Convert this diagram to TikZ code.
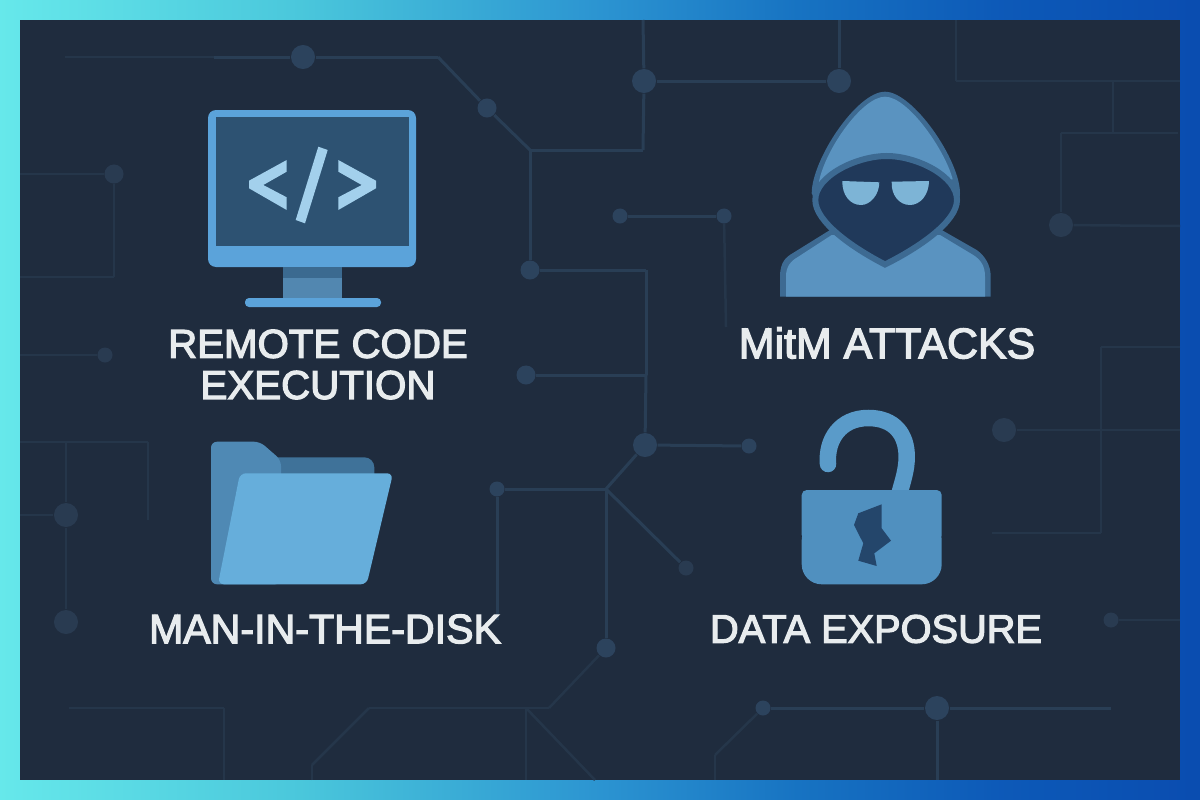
\documentclass[tikz,border=0pt]{standalone}
\usepackage{fontspec}
\setmainfont{Liberation Sans}
\newfontfamily\capfont[FakeBold=3]{Liberation Sans}
\definecolor{panelbg}{HTML}{1F2C3E}
\definecolor{tracecol}{HTML}{293E55}
\definecolor{tracedim}{HTML}{25364A}
\definecolor{viacol}{HTML}{2C435D}
\definecolor{viadim}{HTML}{293B51}
\definecolor{framecol}{HTML}{5BA3DA}
\definecolor{screencol}{HTML}{2D5272}
\definecolor{glyphcol}{HTML}{A3D0EC}
\definecolor{neckdark}{HTML}{3B6A90}
\definecolor{necklight}{HTML}{5287B0}
\definecolor{hoodline}{HTML}{3D6A92}
\definecolor{hoodfill}{HTML}{5A93C0}
\definecolor{facecol}{HTML}{20395A}
\definecolor{eyecol}{HTML}{7DB4D6}
\definecolor{foldertab}{HTML}{4F89B4}
\definecolor{folderback}{HTML}{3F7299}
\definecolor{folderfront}{HTML}{66AEDB}
\definecolor{lockbody}{HTML}{5090BF}
\definecolor{lockbar}{HTML}{5A9BC9}
\definecolor{crackcol}{HTML}{24466B}
\definecolor{labelcol}{HTML}{E8ECEE}
\pgfdeclarehorizontalshading{frameglow}{100bp}{rgb(0bp)=(.40,.91,.92); rgb(25bp)=(.40,.91,.92); rgb(37.5bp)=(.29,.78,.86); rgb(50bp)=(.17,.58,.82); rgb(58.3bp)=(.09,.45,.76); rgb(66.7bp)=(.05,.35,.72); rgb(75bp)=(.04,.30,.69); rgb(100bp)=(.04,.30,.69)}
\tikzset{
  trace/.style={draw=tracecol, line width=0.03cm},
  tracefaint/.style={draw=tracedim, line width=0.025cm},
  viasmall/.style={circle, fill=viacol, inner sep=0pt, minimum size=0.15cm},
  viamid/.style={circle, fill=viacol, inner sep=0pt, minimum size=0.19cm},
  vialarge/.style={circle, fill=viacol, inner sep=0pt, minimum size=0.24cm},
  caption/.style={text=labelcol, align=center, inner sep=0pt, font=\capfont\fontsize{#1}{11.7pt}\selectfont}
}
\begin{document}
\begin{tikzpicture}[x=0.01cm, y=-0.01cm]
   \useasboundingbox (0,0) rectangle (1200,800);
   \shade[shading=frameglow] (0,0) rectangle (1200,800);
   \fill[panelbg] (20,20) rectangle (1180,780);

   % vias
   \node[vialarge] (V1) at (303,57) {};
   \node[viamid] (V2) at (487,108) {};
   \node[viamid] (V3) at (530,270) {};
   \node[viamid] (V4) at (526,375) {};
   \node[vialarge] (V5) at (644,81) {};
   \node[vialarge] (V6) at (839,81) {};
   \node[viasmall] (V7) at (620,216) {};
   \node[viasmall] (V8) at (724,216) {};
   \node[vialarge, fill=viadim] (V9) at (1061,225) {};
   \node[vialarge, fill=viadim] (V10) at (1004,430) {};
   \node[viasmall, fill=viadim] (V11) at (1111,620) {};
   \node[viamid, fill=viadim] (V12) at (114,174) {};
   \node[viasmall, fill=viadim] (V13) at (105,355) {};
   \node[vialarge, fill=viadim] (V14) at (66,515) {};
   \node[vialarge, fill=viadim] (V15) at (66,622) {};
   \node[vialarge] (V16) at (645,445) {};
   \node[viasmall] (V17) at (749,446) {};
   \node[viasmall] (V18) at (497,489) {};
   \node[viamid] (V19) at (606,648) {};
   \node[viasmall, fill=viadim] (V20) at (686,568) {};
   \node[viasmall] (V21) at (763,708) {};
   \node[vialarge] (V22) at (937,708) {};

   % corners and free ends
   \coordinate (T0) at (65,57);
   \coordinate (T1) at (214,57);
   \coordinate (T2) at (438,57);
   \coordinate (T3) at (530,150);
   \coordinate (T4) at (643,150);
   \coordinate (T5) at (643,20);
   \coordinate (T6) at (839,20);
   \coordinate (T7) at (646,270);
   \coordinate (T8) at (646,375);
   \coordinate (T9) at (726,327);
   \coordinate (R1) at (956,20);
   \coordinate (R2) at (956,81);
   \coordinate (R3) at (1180,81);
   \coordinate (R4) at (1113,81);
   \coordinate (R5) at (1113,133);
   \coordinate (R6) at (1061,133);
   \coordinate (R7) at (1178,133);
   \coordinate (R8) at (1180,226);
   \coordinate (R9) at (1180,347);
   \coordinate (R10) at (1101,347);
   \coordinate (R11) at (1101,533);
   \coordinate (R12) at (992,533);
   \coordinate (R13) at (1180,430);
   \coordinate (R14) at (1180,620);
   \coordinate (L1) at (20,174);
   \coordinate (L2) at (114,277);
   \coordinate (L3) at (20,277);
   \coordinate (L4) at (20,355);
   \coordinate (L5) at (20,442);
   \coordinate (L6) at (148,442);
   \coordinate (L7) at (148,520);
   \coordinate (L8) at (66,442);
   \coordinate (L9) at (20,515);
   \coordinate (B1) at (69,708);
   \coordinate (B2) at (224,708);
   \coordinate (B3) at (224,780);
   \coordinate (B4) at (312,780);
   \coordinate (B5) at (312,765);
   \coordinate (B6) at (369,708);
   \coordinate (B7) at (549,708);
   \coordinate (B8) at (526,708);
   \coordinate (B9) at (526,780);
   \coordinate (B10) at (595,780);
   \coordinate (C1) at (606,489);
   \coordinate (C2) at (497,620);
   \coordinate (D1) at (1111,708);
   \coordinate (D2) at (937,780);
   \coordinate (D3) at (715,755);
   \coordinate (D4) at (715,780);

   % circuit traces
   \draw[tracefaint] (T0) to (T1);
   \draw[trace] (T1) to (V1);
   \draw[trace] (V1) to (T2);
   \draw[trace] (T2) to (V2);
   \draw[trace] (V2) to (T3);
   \draw[trace] (T3) to (T4);
   \draw[trace] (T3) to (V3);
   \draw[trace] (V3) to (T7);
   \draw[trace] (T7) to (T8);
   \draw[trace] (T8) to (V16);
   \draw[trace] (V4) to (T8);
   \draw[trace] (T4) to (V5);
   \draw[trace] (V5) to (T5);
   \draw[trace] (V5) to (V6);
   \draw[trace] (V6) to (T6);
   \draw[trace] (V7) to (V8);
   \draw[tracefaint] (V8) to (T9);
   \draw[tracefaint] (R1) to (R2);
   \draw[tracefaint] (R2) to (R3);
   \draw[tracefaint] (R4) to (R5);
   \draw[tracefaint] (R6) to (R7);
   \draw[tracefaint] (R6) to (V9);
   \draw[tracefaint] (V9) to (R8);
   \draw[tracefaint] (R9) to (R10);
   \draw[tracefaint] (R10) to (R11);
   \draw[tracefaint] (R11) to (R12);
   \draw[tracefaint] (V10) to (R13);
   \draw[tracefaint] (V11) to (R14);
   \draw[tracefaint] (L1) to (V12);
   \draw[tracefaint] (V12) to (L2);
   \draw[tracefaint] (L2) to (L3);
   \draw[tracefaint] (L4) to (V13);
   \draw[tracefaint] (L5) to (L6);
   \draw[tracefaint] (L6) to (L7);
   \draw[tracefaint] (L8) to (V14);
   \draw[tracefaint] (V14) to (V15);
   \draw[tracefaint] (L9) to (V14);
   \draw[tracefaint] (B1) to (B2);
   \draw[tracefaint] (B2) to (B3);
   \draw[tracefaint] (B4) to (B5);
   \draw[tracefaint] (B5) to (B6);
   \draw[tracefaint] (B6) to (B7);
   \draw[tracefaint] (B7) to (V19);
   \draw[tracefaint] (B8) to (B9);
   \draw[tracefaint] (B8) to (B10);
   \draw[trace] (V16) to (V17);
   \draw[trace] (V16) to (C1);
   \draw[trace] (C1) to (V18);
   \draw[trace] (V18) to (C2);
   \draw[trace] (C1) to (V19);
   \draw[trace] (C1) to (V20);
   \draw[trace] (V21) to (V22);
   \draw[trace] (V22) to (D1);
   \draw[trace] (V22) to (D2);
   \draw[tracefaint] (V21) to (D3);
   \draw[tracefaint] (D3) to (D4);

   % monitor
   \fill[framecol, rounded corners=0.08cm] (208,110) rectangle (416,267);
   \fill[screencol] (216,117) rectangle (409,246);
   \fill[necklight] (283,267) rectangle (342,298);
   \fill[neckdark] (283,267) rectangle (342,278);
   \fill[framecol, rounded corners=0.04cm] (245,298) rectangle (381,307);
   \fill[glyphcol] (286.7,160) -- (249,180.7) -- (249,188.3) -- (286.7,210) -- (286.7,197.3) -- (263.3,185) -- (286.7,171.7) -- cycle;
   \fill[glyphcol] (318.3,146.7) -- (327.7,150) -- (305,223.3) -- (295.7,220) -- cycle;
   \fill[glyphcol] (338.3,160) -- (376,180.7) -- (376,188.3) -- (338.3,210) -- (338.3,197.3) -- (361.7,185) -- (338.3,171.7) -- cycle;

   % hooded figure
   \fill[hoodline] (780,296.7) -- (780,276.7) .. controls (780,262) and (786,257) .. (793,253) -- (830,230) -- (811.7,193.3)
      .. controls (811.7,160) and (856.7,91.7) .. (885,91.7) .. controls (913,91.7) and (960,160) .. (960,193.3)
      .. controls (960,206.7) and (950,220) .. (941.7,230) -- (976.7,250) .. controls (985,256) and (990.7,265) .. (990.7,276.7) -- (990.7,296.7) -- cycle;
   \fill[hoodfill] (819,181.7) .. controls (825,150) and (862,96.7) .. (885,96.7) .. controls (908,96.7) and (945,150) .. (952.7,179.3) -- (886,190) -- cycle;
   \fill[hoodfill] (786,296.7) -- (786,276.7) .. controls (786,266) and (791,261) .. (798.3,256.7) -- (831.7,235) -- (940,235) -- (973.3,255) .. controls (981,260) and (985,266) .. (985,276.7) -- (985,296.7) -- cycle;
   \filldraw[fill=facecol, draw=hoodline, line width=0.06cm] (815.3,200) .. controls (815.3,176) and (856.7,156) .. (886.7,156)
      .. controls (916.7,156) and (957,176) .. (957,200) .. controls (957,222) and (918,248) .. (885,264.5)
      .. controls (853,248) and (815.3,222) .. (815.3,200) -- cycle;
   \fill[eyecol] (842.3,181) -- (879.3,182.3) .. controls (879.3,195) and (870,205) .. (861,205) .. controls (850,205) and (842,195) .. (842.3,181) -- cycle;
   \fill[eyecol] (891.7,181.7) -- (929,181) .. controls (929,195) and (920,205) .. (910,205) .. controls (899,205) and (891,195) .. (891.7,181.7) -- cycle;

   % folder
   \fill[folderback, rounded corners=0.1cm] (260,457.3) -- (374.3,457.3) -- (374.3,490) -- (260,490) -- cycle;
   \fill[foldertab, rounded corners=0.06cm] (211,441.7) -- (260,441.7) -- (281,460) -- (281,584.3) -- (211,584.3) -- cycle;
   \fill[folderfront, rounded corners=0.06cm] (240,473.3) -- (393,473.3) -- (366.7,584.3) -- (218,584.3) -- cycle;

   % open lock
   \draw[lockbar, line width=0.165cm, line cap=round] (828,464) .. controls (826,440) and (840,418) .. (868.3,418)
      .. controls (895,418) and (906.7,435) .. (906.7,456.7) .. controls (906.7,470) and (903,480) .. (899,495);
   \fill[lockbody, rounded corners=0.05cm] (801.7,490) -- (941.7,490) -- (941.7,540) -- (801.7,540) -- cycle;
   \fill[lockbody, rounded corners=0.2cm] (801.7,520) -- (941.7,520) -- (941.7,584.3) -- (801.7,584.3) -- cycle;
   \fill[crackcol] (881.7,504.3) -- (858.3,513.3) -- (854,525) -- (863.3,543.3) -- (858.3,560.7) -- (876.7,566) -- (874.3,553.3) -- (891,540.7) -- (881.7,528.3) -- cycle;

   % captions
   \node[caption=11.45pt] (remote) at (318,364.5) {REMOTE CODE\\EXECUTION};
   \node[caption=12.2pt] (mitm) at (887,343) {MitM ATTACKS};
   \node[caption=11.7pt] (disk) at (325,629) {MAN-IN-THE-DISK};
   \node[caption=11.3pt] (exposure) at (876,629) {DATA EXPOSURE};
\end{tikzpicture}
\end{document}
